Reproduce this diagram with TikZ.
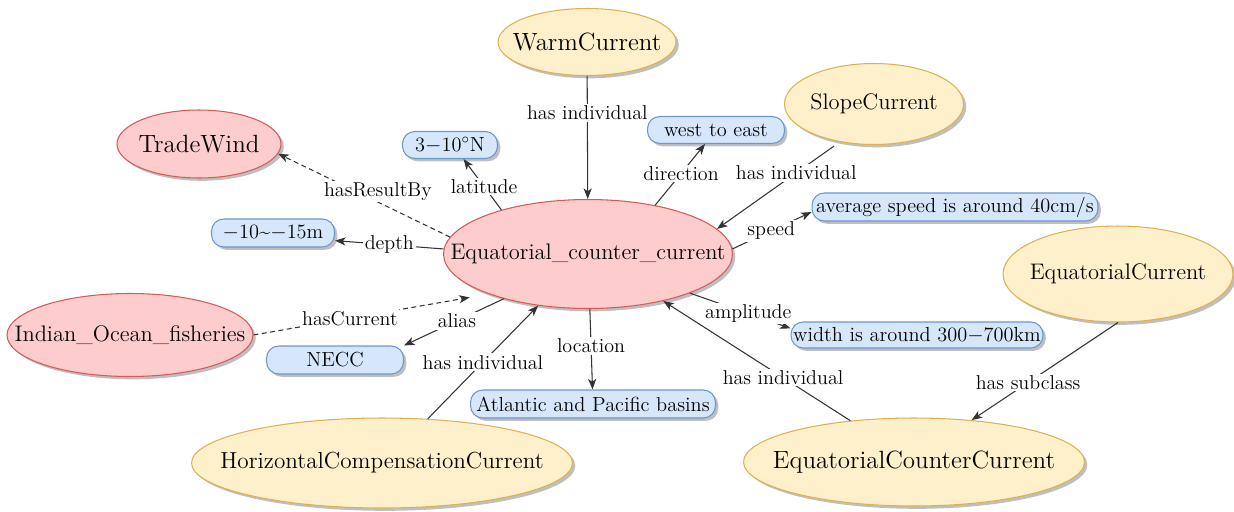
\documentclass[tikz,border=0pt]{standalone}
\usetikzlibrary{shapes.geometric,shadows,arrows.meta}

\definecolor{redfill}{HTML}{FDCCCC}
\definecolor{redline}{HTML}{D35B58}
\definecolor{yelfill}{HTML}{FFF0CC}
\definecolor{yelline}{HTML}{E0B050}
\definecolor{blufill}{HTML}{D6E7FB}
\definecolor{bluline}{HTML}{6C96CF}

\tikzset{
  dropsh/.style={drop shadow={shadow xshift=1.6pt,shadow yshift=-1.6pt,opacity=0.25,fill=black}},
  oval/.style={ellipse,inner sep=0pt,line width=0.6pt,dropsh},
  redcls/.style={oval,draw=redline,fill=redfill},
  yelcls/.style={oval,draw=yelline,fill=yelfill},
  valbox/.style={rectangle,rounded corners=7pt,draw=bluline,fill=blufill,line width=0.6pt,
    inner sep=1pt,dropsh,font=\fontsize{11.6}{13}\selectfont},
  every label/.style={font=\fontsize{12.8}{15}\selectfont},
  bigname/.style={font=\fontsize{14.2}{16}\selectfont},
  rel/.style={draw=black!80,line width=0.6pt,-{Stealth[length=6pt,width=4.6pt,inset=1.6pt]}},
  dashln/.style={dash pattern=on 2.8pt off 2pt},
  lbl/.style={fill=white,inner sep=1pt,font=\fontsize{11.4}{13}\selectfont,text=black}
}

\begin{document}
\begin{tikzpicture}[x=0.02cm,y=-0.02cm]
\useasboundingbox (0,0) rectangle (1234,511);

\node[redcls,minimum width=5.78cm,minimum height=2.18cm,label=center:{Equatorial\_counter\_current}] (cen) at (588,254) {};
\node[redcls,minimum width=3.28cm,minimum height=1.36cm,label={[bigname]center:{TradeWind}}] (trade) at (199,144) {};
\node[redcls,minimum width=4.92cm,minimum height=1.66cm,label=center:{Indian\_Ocean\_fisheries}] (ind) at (130,335) {};

\node[yelcls,minimum width=3.56cm,minimum height=1.34cm,label={[bigname]center:{WarmCurrent}}] (warm) at (587,42) {};
\node[yelcls,minimum width=3.58cm,minimum height=1.62cm,label=center:{SlopeCurrent}] (slope) at (874,104) {};
\node[yelcls,minimum width=4.6cm,minimum height=1.92cm,label=center:{EquatorialCurrent}] (ec) at (1118,274) {};
\node[yelcls,minimum width=6.82cm,minimum height=1.76cm,label={[bigname]center:{EquatorialCounterCurrent}}] (ecc) at (914,462) {};
\node[yelcls,minimum width=7.62cm,minimum height=1.8cm,label={[font=\fontsize{13.2}{15}\selectfont]center:{HorizontalCompensationCurrent}}] (hcc) at (382,463) {};

\node[valbox,minimum width=1.9cm,minimum height=0.54cm] (lat) at (450,145) {3$-$10$^\circ$N};
\node[valbox,minimum width=2.74cm,minimum height=0.54cm] (wte) at (716,130) {west to east};
\node[valbox,minimum width=5.72cm,minimum height=0.56cm] (avg) at (955,207) {average speed is around 40cm/s};
\node[valbox,minimum width=5.04cm,minimum height=0.52cm] (wid) at (917,335) {width is around 300$-$700km};
\node[valbox,minimum width=4.9cm,minimum height=0.56cm] (atl) at (593,404) {Atlantic and Pacific basins};
\node[valbox,minimum width=2.74cm,minimum height=0.56cm] (necc) at (335,360) {NECC};
\node[valbox,minimum width=2.46cm,minimum height=0.56cm] (dep) at (273,233) {$-$10\textasciitilde$-$15m};

\draw[rel] (warm) -- node[lbl,pos=0.3] {has individual} (cen);
\draw[rel] (cen.153) -- node[lbl,pos=0.46] {latitude} (lat.-46);
\draw[rel,dashln] (cen.173) -- node[lbl,pos=0.42,yshift=6pt] {hasResultBy} (trade.-7);
\draw[rel] (cen.178) -- node[lbl] {depth} (dep.-7);
\draw[rel,dashln,shorten >=11pt] (ind.east) -- node[lbl,pos=0.41] {hasCurrent} (cen.202);
\draw[rel] (cen.208) -- node[lbl,pos=0.47] {alias} (necc.north east);
\draw[rel] (hcc.44) -- node[lbl] {has individual} (cen.226);
\draw[rel] (cen) -- node[lbl,pos=0.46] {location} (atl);
\draw[rel] (ecc.147) -- node[lbl,pos=0.36] {has individual} (cen.-32);
\draw[rel] (cen.-21) -- node[lbl,pos=0.58] {amplitude} (wid.177);
\draw[rel] (ec.south) -- node[lbl,pos=0.615] {has subclass} (ecc.36);
\draw[rel] (cen.2) -- node[lbl,pos=0.49] {speed} (avg.182);
\draw[rel,shorten <=4pt] (slope.228) -- node[lbl,pos=0.355] {has individual} (cen.11);
\draw[rel] (cen.36) -- node[lbl,pos=0.52] {direction} (wte.-128);
\end{tikzpicture}
\end{document}
